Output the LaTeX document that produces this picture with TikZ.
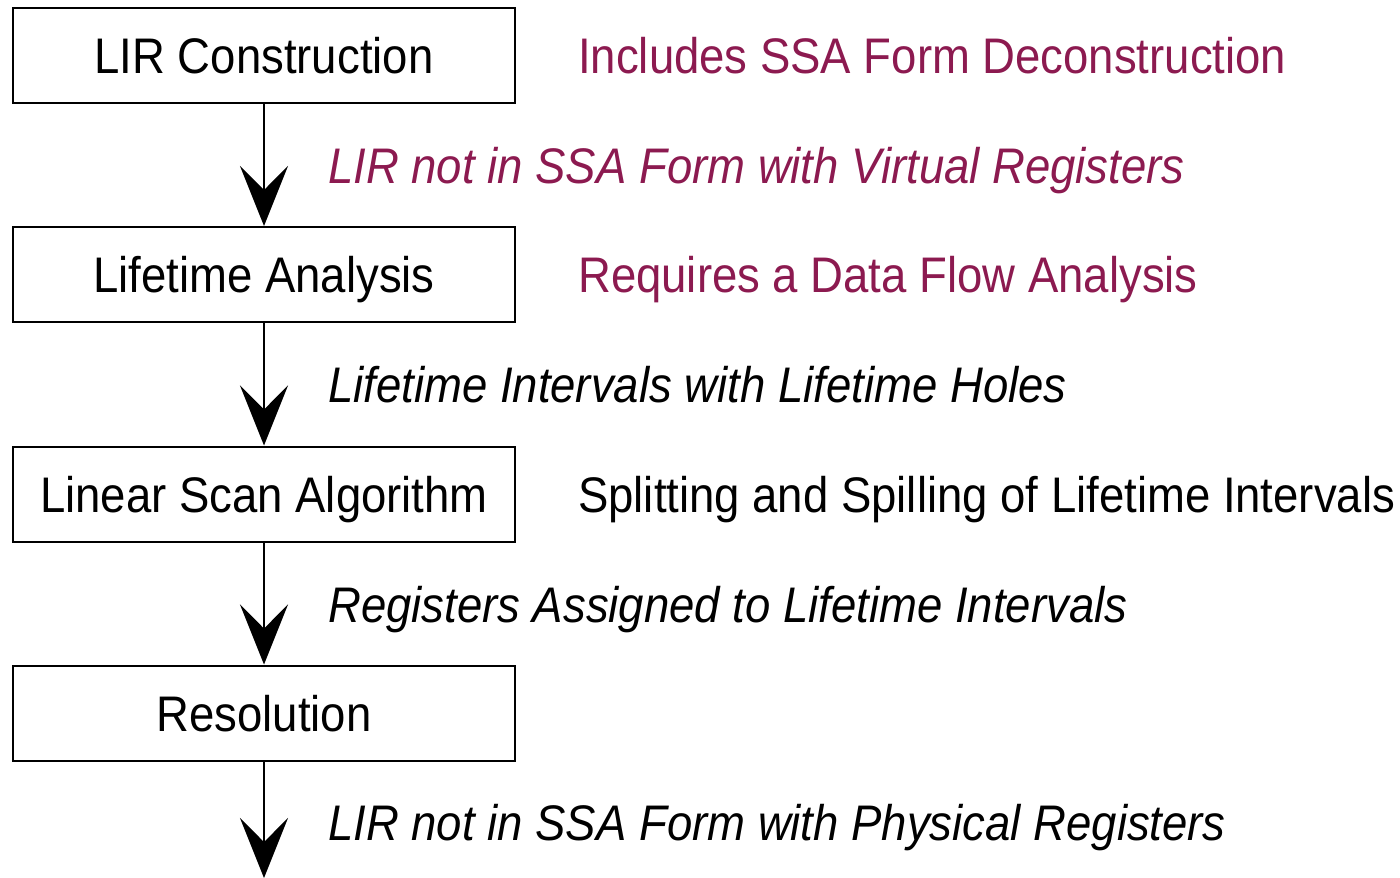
\documentclass[tikz,border=0pt]{standalone}
\usepackage{fontspec}
\setmainfont[FakeStretch=0.91]{Liberation Sans}
\usetikzlibrary{arrows.meta}
\definecolor{notecol}{RGB}{140,26,80}
\begin{document}
\begin{tikzpicture}[x=1pt,y=-1pt,
  font=\fontsize{50}{60}\selectfont,
  stage/.style={draw, line width=2pt, minimum width=502pt, minimum height=95pt,
    inner sep=0pt, text height=46pt, text depth=10pt},
  note/.style={anchor=west, inner sep=0pt, text height=46pt, text depth=10pt},
  flowlabel/.style={note, font=\fontsize{50}{60}\selectfont\itshape},
  flow/.style={line width=2pt, -{Stealth[length=60pt, width=48pt, inset=24pt]}}]
  \useasboundingbox (0,0) rectangle (1400,878);

  % processing stages
  \node[stage] (lir)  at (264,55.5)  {LIR Construction};
  \node[stage] (life) at (264,274.5) {Lifetime Analysis};
  \node[stage] (scan) at (264,494)   {Linear Scan Algorithm};
  \node[stage] (res)  at (264,713)   {Resolution};
  \coordinate (out) at (264,878);

  % remarks beside the stages
  \node[note, text=notecol] (n1) at (578,55.5)  {Includes SSA Form Deconstruction};
  \node[note, text=notecol] (n2) at (578,274.5) {Requires a Data Flow Analysis};
  \node[note] (n3) at (578,494) {Splitting and Spilling of Lifetime Intervals};

  % data passed between stages
  \draw[flow] (lir)  -- (life);
  \draw[flow] (life) -- (scan);
  \draw[flow] (scan) -- (res);
  \draw[flow] (res)  -- (out);

  \node[flowlabel, text=notecol] (d1) at (328,165) {LIR not in SSA Form with Virtual Registers};
  \node[flowlabel] (d2) at (328,384) {Lifetime Intervals with Lifetime Holes};
  \node[flowlabel] (d3) at (328,604) {Registers Assigned to Lifetime Intervals};
  \node[flowlabel] (d4) at (328,822) {LIR not in SSA Form with Physical Registers};
\end{tikzpicture}
\end{document}
